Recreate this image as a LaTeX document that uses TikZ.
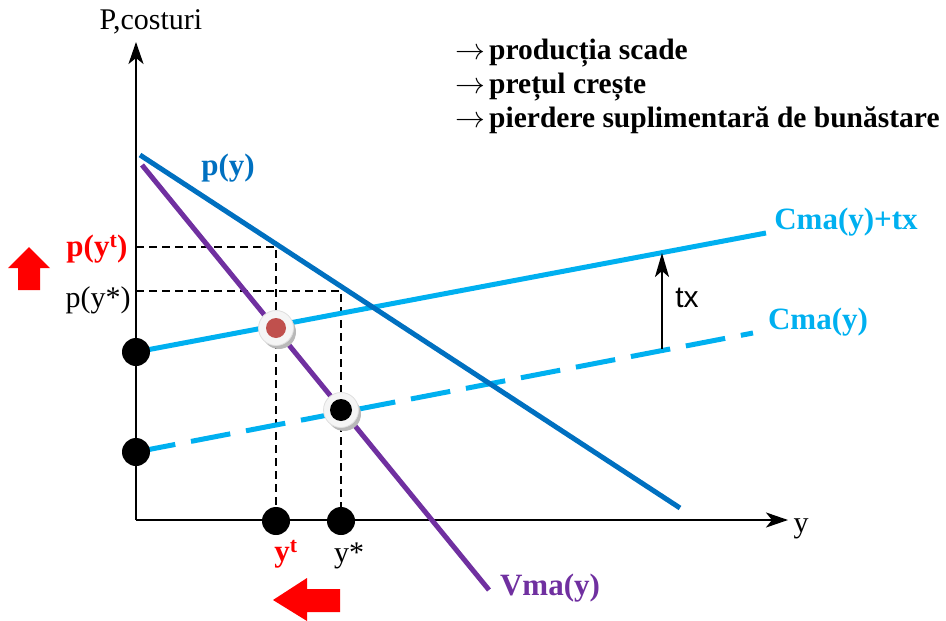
\documentclass[tikz,border=0pt]{standalone}
\usepackage{fontspec}
\usepackage{graphicx}
\setmainfont{Liberation Serif}
\newfontfamily\sansf{Liberation Sans}
\usetikzlibrary{arrows.meta}
\definecolor{pblue}{HTML}{0070C0}
\definecolor{cblue}{HTML}{00B0F0}
\definecolor{vpurple}{HTML}{7030A0}
\definecolor{dotred}{HTML}{C0504D}
\definecolor{arrred}{HTML}{FF0000}
\newcommand{\bulletarrow}{\makebox[34pt][l]{\scalebox{1.2}[1.2]{$\rightarrow$}}}
\begin{document}
\begin{tikzpicture}[x=1pt,y=-1pt,
  lbl/.style={font=\fontsize{31}{34}\selectfont\bfseries, inner sep=0pt},
  toptext/.style={font=\fontsize{29.5}{34}\selectfont\bfseries, inner sep=0pt, anchor=west},
  plain/.style={font=\fontsize{30}{34}\selectfont, inner sep=0pt},
  axisline/.style={line width=2.5pt, -{Stealth[length=22pt,width=15pt,inset=6pt]}},
  curve/.style={line width=5pt},
  guide/.style={line width=2pt, dash pattern=on 8pt off 5pt},
  axdot/.style={circle, fill=black, minimum size=28pt, inner sep=0pt},
  ringdot/.style={circle, fill=gray!8, draw=gray!25, line width=0.8pt, minimum size=35pt, inner sep=0pt},
  bigarrow/.style={fill=arrred}]
\useasboundingbox (0,0) rectangle (946,621);

% coordinates
\coordinate (O) at (136,520);
\coordinate (Ytop) at (136,42);
\coordinate (Xend) at (788,520);
\coordinate (pA) at (140,155);
\coordinate (pB) at (680,508);
\coordinate (vA) at (142,165);
\coordinate (vB) at (489,590);
\coordinate (ctA) at (136,352);
\coordinate (ctB) at (766,233);
\coordinate (cA) at (136,452);
\coordinate (cB) at (753,333);
\coordinate (g1a) at (136,247);
\coordinate (g1b) at (276,247);
\coordinate (g2a) at (136,291);
\coordinate (g2b) at (341,291);
\coordinate (txA) at (662,349);
\coordinate (txB) at (662,253);

% axes
\draw[axisline] (O) -- (Ytop);
\draw[axisline] (O) -- (Xend);

% guide dashed lines
\draw[guide] (g1a) -- (g1b) -- (276,520);
\draw[guide] (g2a) -- (g2b) -- (341,520);

% curves
\draw[curve, cblue, dash pattern=on 40pt off 16pt] (cA) -- (cB);
\draw[curve, cblue] (ctA) -- (ctB);
\draw[curve, pblue] (pA) -- (pB);
\draw[curve, vpurple] (vA) -- (vB);

% tx arrow
\draw[line width=2pt, -{Stealth[length=24pt,width=14pt,inset=6pt]}] (txA) -- (txB);

% dots on axes
\node[axdot] (d1) at (136,352) {};
\node[axdot] (d2) at (136,452) {};
\node[axdot] (d3) at (276,521) {};
\node[axdot] (d4) at (341,521) {};

% ringed equilibrium dots
\fill[gray!55] (279,332) circle (17pt);
\node[ringdot] (e1) at (276,328) {};
\fill[dotred] (e1) circle (10pt);
\fill[gray!55] (344,414) circle (17pt);
\node[ringdot] (e2) at (341,410) {};
\fill[black] (e2) circle (11pt);

% labels
\node[plain] (lP) at (151,22) {P,costuri};
\node[plain] (lY) at (801,529) {y};
\node[lbl, pblue] (lp) at (228,168) {p(y)};
\node[lbl, vpurple] (lv) at (550,588) {Vma(y)};
\node[lbl, cblue] (lct) at (846,222) {Cma(y)+tx};
\node[lbl, cblue] (lc) at (818,322) {Cma(y)};
\node[font=\sansf\fontsize{30}{34}\selectfont, inner sep=0pt] (ltx) at (687,298) {tx};
\node[lbl, arrred] (lpt) at (97,249) {p(y\textsuperscript{t})};
\node[plain] (lps) at (98,300) {p(y*)};
\node[lbl, arrred] (lyt) at (286,554) {y\textsuperscript{t}};
\node[plain] (lys) at (349,556) {y*};

% top text
\node[toptext] (t1) at (455,53) {\bulletarrow producția scade};
\node[toptext] (t2) at (455,87) {\bulletarrow prețul crește};
\node[toptext] (t3) at (455,120) {\bulletarrow pierdere suplimentară de bunăstare};

% red block arrows
\fill[bigarrow] (29,247) -- (50,268) -- (40,268) -- (40,290) -- (18,290) -- (18,268) -- (8,268) -- cycle;
\fill[bigarrow] (273,600) -- (307,578) -- (307,589) -- (340,589) -- (340,612) -- (307,612) -- (307,621) -- cycle;
\end{tikzpicture}
\end{document}
